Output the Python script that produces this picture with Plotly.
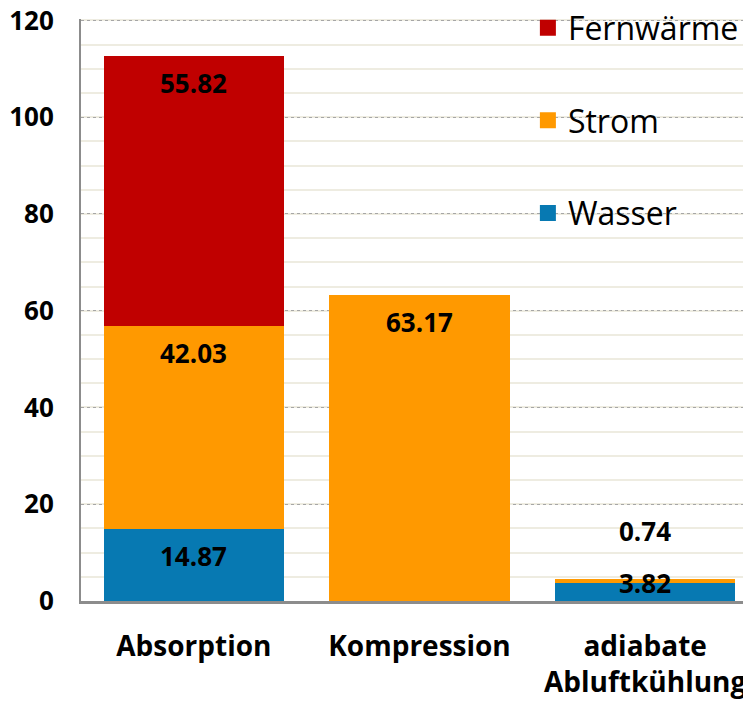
import plotly.graph_objects as go

categories = ["Absorption", "Kompression", "adiabate<br>Abluftkühlung"]
wasser = [14.87, 0, 3.82]
strom = [42.03, 63.17, 0.74]
fernwaerme = [55.82, 0, 0]
y_ticks = [0, 20, 40, 60, 80, 100, 120]

c_w, c_s, c_f = "#0779B2", "#FF9900", "#C00000"
FONT = "Open Sans"

fig = go.Figure()
for name, vals, col in [("Wasser", wasser, c_w), ("Strom", strom, c_s), ("Fernwärme", fernwaerme, c_f)]:
    fig.add_trace(go.Bar(x=categories, y=vals, name=name, marker=dict(color=col, line=dict(width=0)),
                         showlegend=False, hoverinfo="x+y+name"))

# legend entries (dummy traces)
for i, (name, col) in enumerate([("Fernwärme", c_f), ("Strom", c_s), ("Wasser", c_w)]):
    fig.add_trace(go.Scatter(x=[None], y=[None], mode="markers", name=name,
                             marker=dict(symbol="square", size=21, color=col),
                             legendgroup=f"g{i}", showlegend=True))

# data labels
ann = []
for i, cat in enumerate(categories):
    segs = [(wasser[i], 0), (strom[i], wasser[i]), (fernwaerme[i], wasser[i] + strom[i])]
    for v, base in segs:
        if v <= 0:
            continue
        top = base + v
        if v >= 10:
            ann.append(dict(x=cat, y=top, text=f"<b>{v:.2f}</b>", showarrow=False,
                            yanchor="top", yshift=-7))
        elif base == 0:
            ann.append(dict(x=cat, y=top, text=f"<b>{v:.2f}</b>", showarrow=False,
                            yanchor="middle", yshift=0))
        else:
            ann.append(dict(x=cat, y=top, text=f"<b>{v:.2f}</b>", showarrow=False,
                            yanchor="bottom", yshift=28))
for a in ann:
    a["font"] = dict(family=FONT, size=26, color="black")
fig.update_layout(annotations=ann)

fig.update_layout(
    width=743, height=693,
    margin=dict(l=73, r=0, t=11, b=100, autoexpand=False),
    barmode="stack", bargap=0.2,
    plot_bgcolor="white", paper_bgcolor="white",
    font=dict(family=FONT, color="black"),
    legend=dict(x=0.667, xanchor="left", y=1.032, yanchor="top",
                font=dict(family=FONT, size=32, color="black"),
                tracegroupgap=48, itemsizing="trace", traceorder="grouped",
                bgcolor="rgba(0,0,0,0)"),
    xaxis=dict(range=[-0.5, 2.469], showgrid=False, showline=True, linecolor="#8C8C8C", linewidth=3,
               tickfont=dict(family=FONT, size=28, color="black", weight="bold"),
               ticks="", ticklabelstandoff=18, zeroline=False, automargin=False),
    yaxis=dict(range=[0, 120.3], tickvals=y_ticks, showline=True, linecolor="#8C8C8C", linewidth=2,
               showgrid=True, gridcolor="#A6A6A6", griddash="dot", gridwidth=1,
               minor=dict(dtick=5, showgrid=True, gridcolor="#EEECE1", gridwidth=2, griddash="solid"),
               tickfont=dict(family=FONT, size=26, color="black", weight="bold"),
               ticklabeloverflow="allow",
               ticks="", ticklabelstandoff=20, zeroline=False, automargin=False),
)

fig.write_html("out.html")
